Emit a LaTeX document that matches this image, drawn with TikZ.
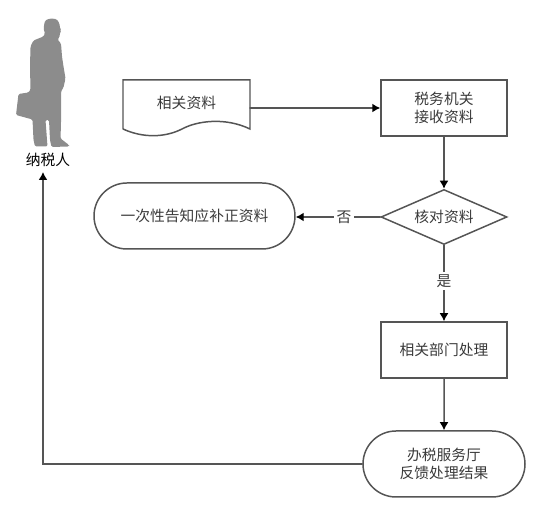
\documentclass[tikz,border=0pt]{standalone}
\usepackage{fontspec}
\setmainfont{Noto Sans CJK SC}
\usetikzlibrary{arrows.meta, shapes.geometric, shapes.misc}
\definecolor{linea}{HTML}{555555}
\definecolor{texto}{HTML}{3A3A3A}
\definecolor{silueta}{HTML}{8C8C8C}
\tikzset{
  caja/.style={draw=linea, line width=0.85pt, fill=white, minimum width=2.52cm, minimum height=1.12cm, inner sep=0pt, align=center},
  rombo/.style={draw=linea, line width=0.85pt, diamond, aspect=2.29, minimum width=2.52cm, minimum height=1.1cm, inner sep=0pt},
  capsula/.style={draw=linea, line width=0.85pt, rounded rectangle, minimum height=1.32cm, inner sep=0pt, align=center},
  flecha/.style={draw=linea, line width=0.85pt, -{Latex[length=0.16cm, width=0.18cm, black]}},
  etiqueta/.style={fill=white, inner sep=1.5pt}
}
\begin{document}
\begin{tikzpicture}[font=\fontsize{8.4}{10.6}\selectfont, text=texto, line cap=round]
\useasboundingbox (0,0) rectangle (10.76,10.14);

% --- contribuyente (silueta) ---
\fill[silueta, rounded corners=0.8pt] (0.90,9.73) -- (1.00,9.77) -- (1.13,9.76) -- (1.19,9.67) -- (1.20,9.57)
  -- (1.23,9.53) -- (1.20,9.49) -- (1.19,9.39) -- (1.15,9.35) -- (1.22,9.27)
  -- (1.24,9.01) -- (1.27,8.81) -- (1.31,8.57) -- (1.27,8.39) -- (1.22,8.31)
  -- (1.22,7.67) -- (1.21,7.37) -- (1.38,7.24) -- (1.38,7.21) -- (1.03,7.20)
  -- (1.00,7.34) -- (0.98,7.74) -- (0.91,7.74) -- (0.95,7.21) -- (0.70,7.21)
  -- (0.67,7.34) -- (0.65,7.75) -- (0.32,7.84) -- (0.37,8.26) -- (0.57,8.29)
  -- (0.61,8.34) -- (0.60,8.81) -- (0.61,9.21) -- (0.67,9.33) -- (0.87,9.41)
  -- (0.90,9.47) -- (0.87,9.57) -- cycle;
\node[text=black] (nashui) at (0.96,6.94) {纳税人};
\coordinate (nashuibajo) at (0.86,6.70);

% --- documento ---
\draw[linea, line width=0.85pt] (2.46,7.56) -- (2.46,8.54) -- (5.00,8.54) -- (5.00,7.56)
  .. controls (4.5,7.80) and (3.95,7.72) .. (3.66,7.57)
  .. controls (3.3,7.38) and (2.85,7.38) .. (2.46,7.56);
\node (ziliao) at (3.73,8.08) {相关资料};
\coordinate (ziliaosalida) at (5.00,7.98);

% --- pasos ---
\node[caja] (jieshou) at (8.88,7.98) {税务机关\\接收资料};
\node[rombo] (hedui) at (8.88,5.80) {};
\node at (hedui.center) (heduitexto) {核对资料};
\node[capsula, minimum width=4.02cm] (buzheng) at (3.89,5.82) {一次性告知应补正资料};
\node[caja] (chuli) at (8.88,3.14) {相关部门处理};
\node[capsula, minimum width=3.24cm] (fankui) at (8.88,0.86) {办税服务厅\\反馈处理结果};

% --- conectores ---
\draw[flecha] (ziliaosalida) -- (ziliaosalida -| jieshou.west);
\draw[flecha] (jieshou) -- (hedui);
\draw[flecha] (hedui.west) -- node[etiqueta, pos=0.43] (fou) {否} (hedui.west -| buzheng.east);
\draw[flecha] (hedui) -- node[etiqueta, pos=0.47] (shi) {是} (chuli);
\draw[flecha] (chuli) -- (fankui);
\draw[flecha] (fankui.west) -| (nashuibajo);

\end{tikzpicture}
\end{document}
